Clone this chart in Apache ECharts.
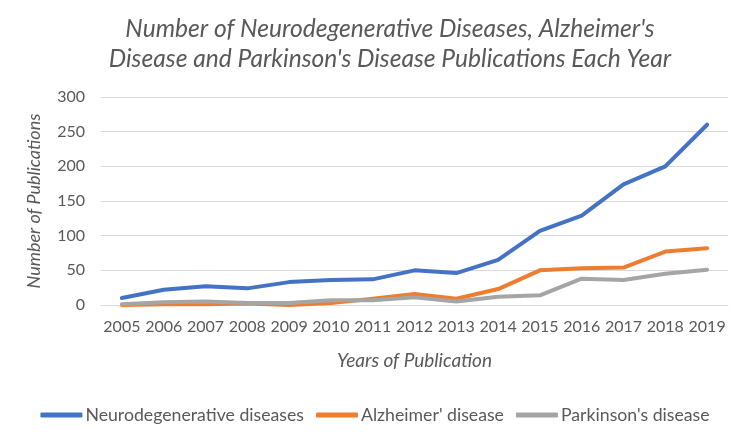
<!DOCTYPE html>
<html><head><meta charset="utf-8">
<script src="https://cdn.jsdelivr.net/npm/echarts@6/dist/echarts.min.js"></script>
<style>html,body{margin:0;padding:0;background:#fff}#c{width:750px;height:439px}</style>
</head><body><div id="c"></div>
<script>
const years = ['2005','2006','2007','2008','2009','2010','2011','2012','2013','2014','2015','2016','2017','2018','2019'];
const neuro = [10, 22, 27, 24, 33, 36, 37, 50, 46, 65, 107, 129, 174, 200, 260];
const alzheimer = [0, 1, 1, 2, 0, 3, 9, 16, 9, 23, 50, 53, 54, 77, 82];
const parkinson = [1, 4, 5, 3, 3, 7, 7, 11, 5, 12, 14, 38, 36, 45, 51];
const seriesNames = ['Neurodegenerative diseases', "Alzheimer' disease", "Parkinson's disease"];
const colors = ['#4472C4', '#ED7D31', '#A5A5A5'];

const font = 'Lato, "Open Sans", sans-serif';
const chart = echarts.init(document.getElementById('c'));
const mk = (name, data, color) => ({
  name, type: 'line', data, symbol: 'none', smooth: false,
  lineStyle: { width: 4, color, cap: 'round', join: 'round' },
  itemStyle: { color }
});
chart.setOption({
  animation: false,
  color: colors,
  title: {
    text: "Number of Neurodegenerative Diseases, Alzheimer's\nDisease and Parkinson's Disease Publications Each Year",
    left: 385, top: 9, textAlign: 'center',
    textStyle: { fontFamily: font, fontStyle: 'italic', fontWeight: 'normal', fontSize: 24.6, color: '#595959', lineHeight: 30 }
  },
  grid: { left: 101, right: 22, top: 97, bottom: 134 },
  legend: {
    bottom: 10, left: 'center', itemWidth: 42, itemHeight: 5, itemGap: 12,
    icon: 'roundRect',
    textStyle: { fontFamily: font, fontSize: 17.7, color: '#595959', padding: [0,0,0,-2] },
    data: seriesNames
  },
  xAxis: {
    type: 'category', data: years, boundaryGap: true,
    name: 'Years of Publication', nameLocation: 'middle', nameGap: 46,
    nameTextStyle: { fontFamily: font, fontStyle: 'italic', fontSize: 19, color: '#595959' },
    axisLine: { lineStyle: { color: '#D9D9D9' } },
    axisTick: { show: false },
    axisLabel: { fontFamily: font, fontSize: 16, color: '#595959', margin: 14, interval: 0 }
  },
  yAxis: {
    type: 'value', min: 0, max: 300, interval: 50,
    name: 'Number of Publications', nameLocation: 'middle', nameGap: 58,
    nameTextStyle: { fontFamily: font, fontStyle: 'italic', fontSize: 18, color: '#595959' },
    axisLine: { show: false }, axisTick: { show: false },
    axisLabel: { fontFamily: font, fontSize: 16, color: '#595959', margin: 16 },
    splitLine: { lineStyle: { color: '#D9D9D9', width: 1 } }
  },
  series: [
    mk(seriesNames[0], neuro, colors[0]),
    mk(seriesNames[1], alzheimer, colors[1]),
    mk(seriesNames[2], parkinson, colors[2])
  ]
});
</script></body></html>
